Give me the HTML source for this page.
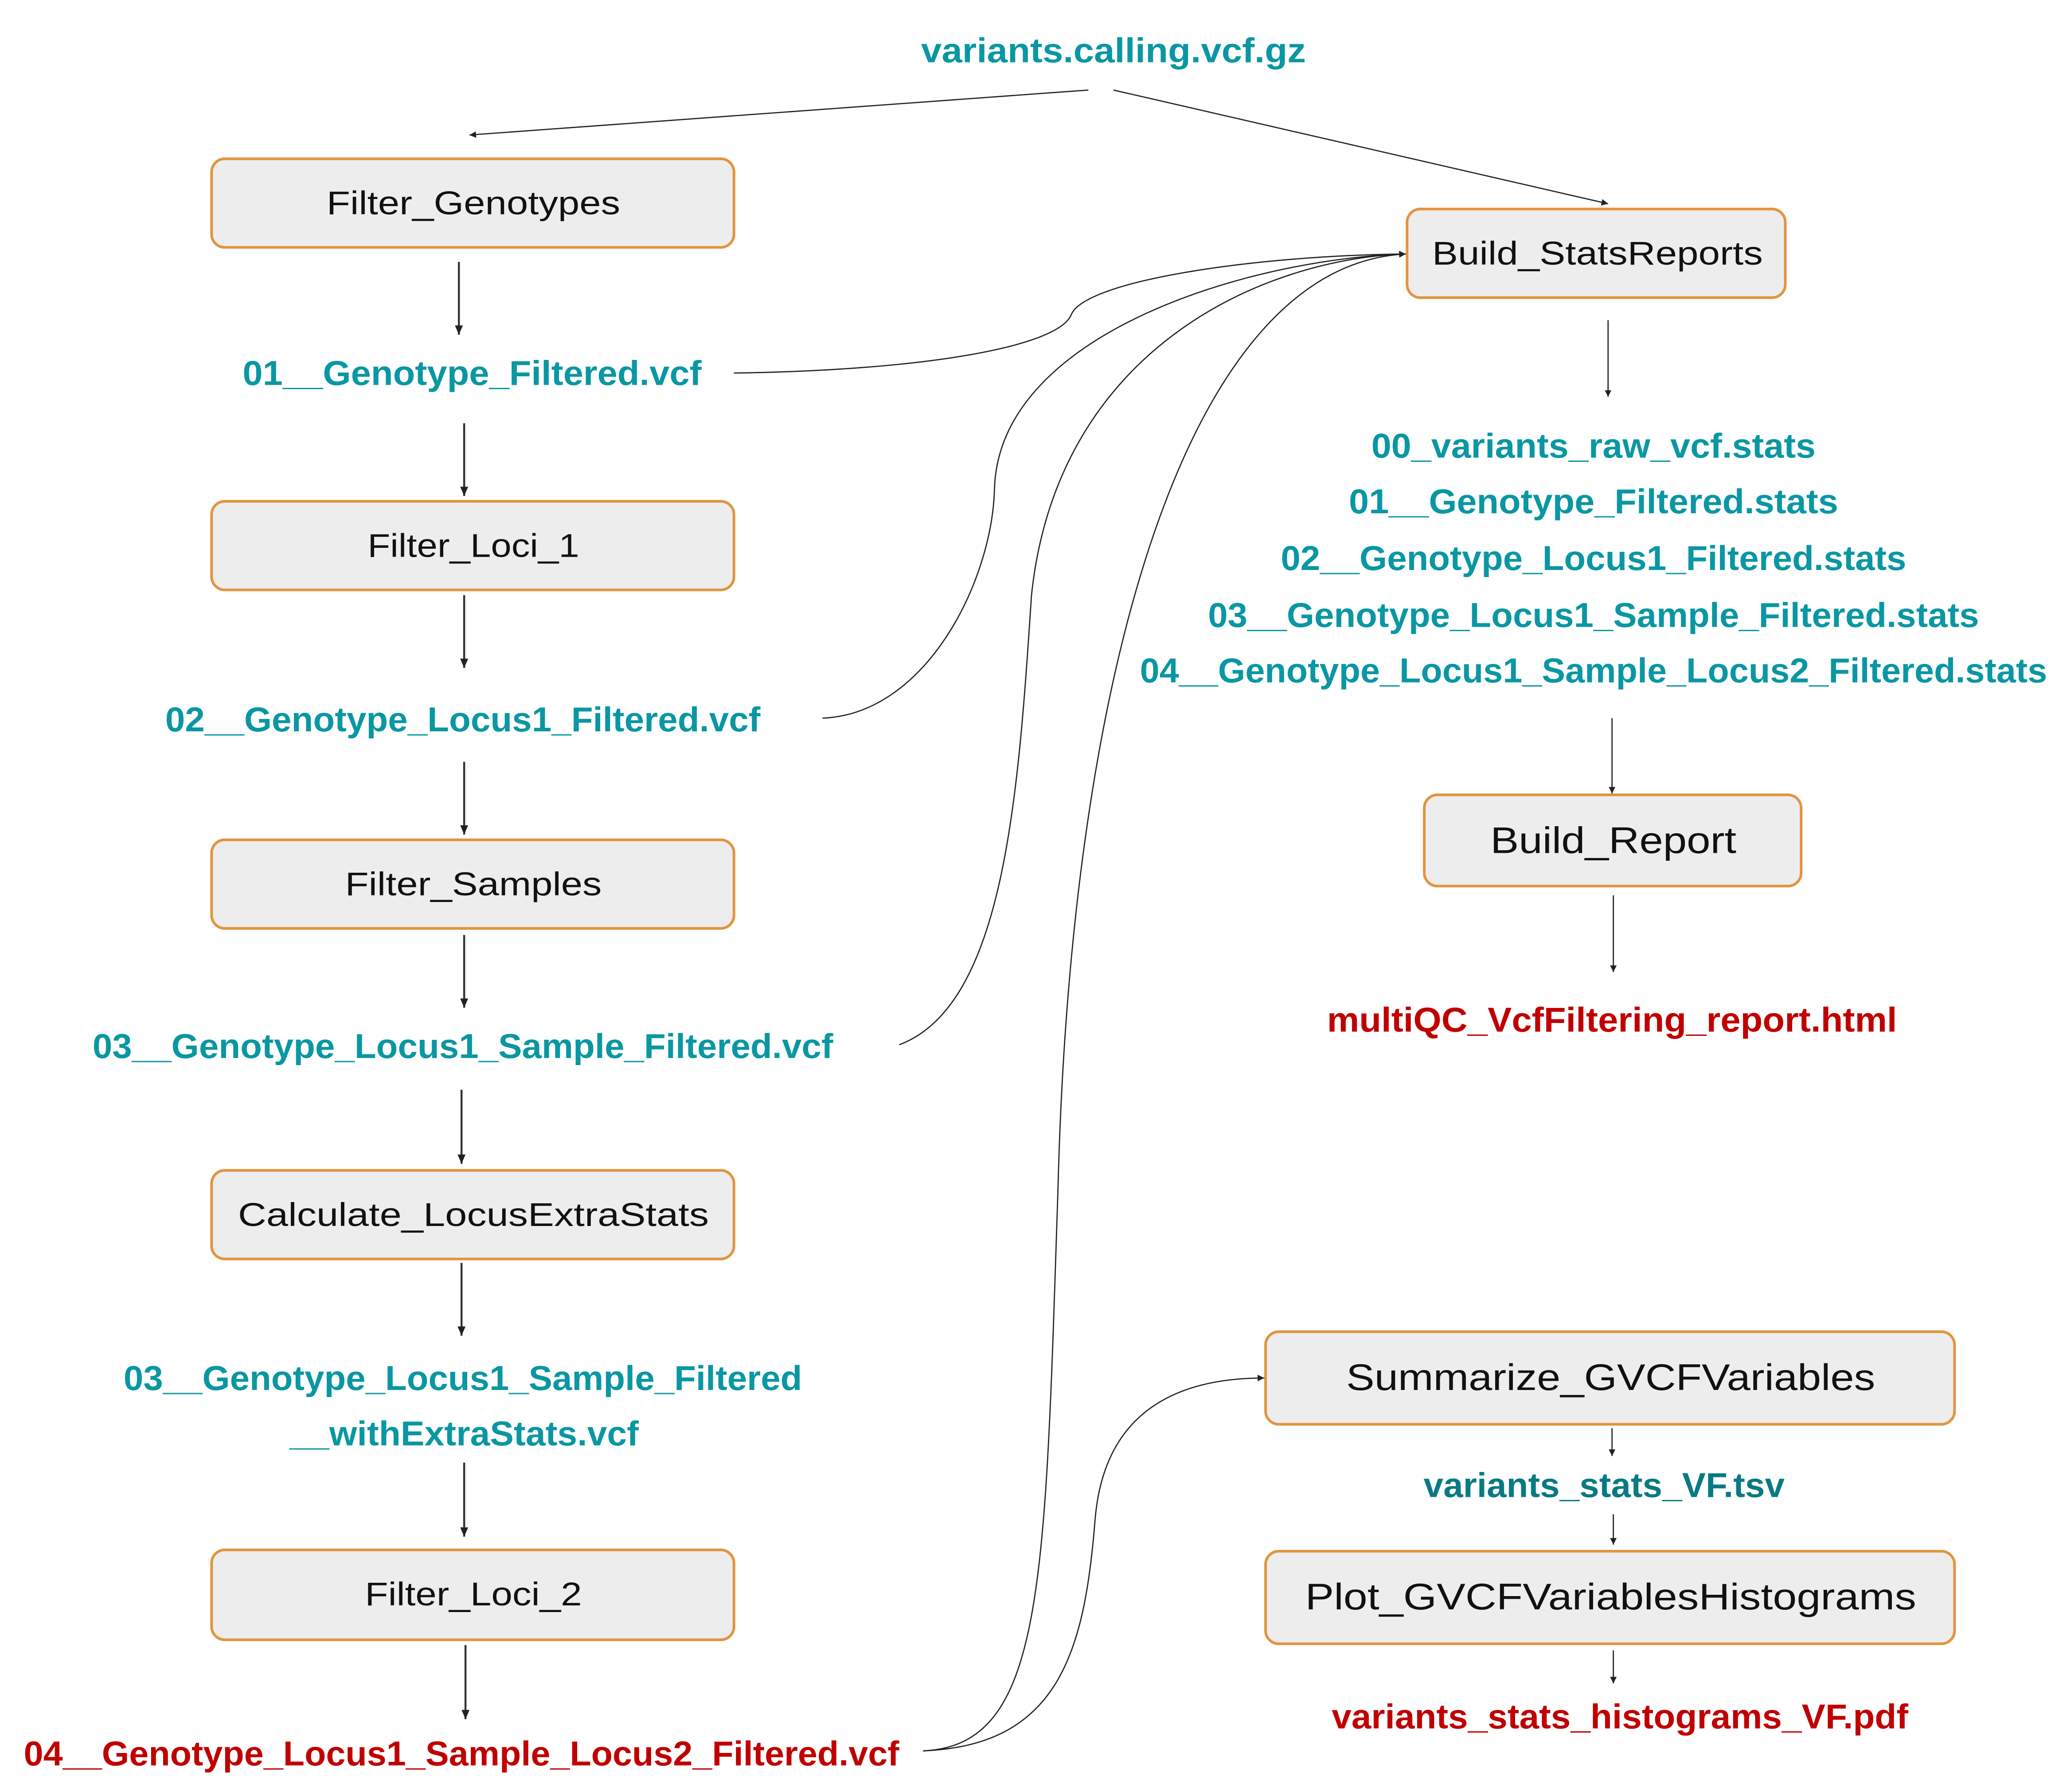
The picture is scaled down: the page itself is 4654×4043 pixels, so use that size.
<!DOCTYPE html>
<html><head><meta charset="utf-8"><style>html,body{margin:0;padding:0;background:#fff}svg{display:block}</style></head>
<body>
<svg width="4654" height="4043" viewBox="0 0 1560 1355" xmlns="http://www.w3.org/2000/svg">
<defs>
<marker id="a" markerWidth="8" markerHeight="8" refX="7" refY="4" orient="auto" markerUnits="userSpaceOnUse"><path d="M0,1 L7,4 L0,7 Z" fill="#222"/></marker>
<marker id="s" markerWidth="6" markerHeight="6" refX="5" refY="3" orient="auto" markerUnits="userSpaceOnUse"><path d="M0,0.5 L5,3 L0,5.5 Z" fill="#222"/></marker>
</defs>
<rect width="1560" height="1355" fill="#fff"/>
<g fill="#ededed" stroke="#e2943e" stroke-width="2">
<rect x="160" y="120" width="395" height="67" rx="10"/>
<rect x="160" y="379" width="395" height="67" rx="10"/>
<rect x="160" y="635" width="395" height="67" rx="10"/>
<rect x="160" y="885" width="395" height="67" rx="10"/>
<rect x="160" y="1172" width="395" height="68" rx="10"/>
<rect x="1064" y="158" width="286" height="67" rx="10"/>
<rect x="1077" y="601" width="285" height="69" rx="10"/>
<rect x="957" y="1007" width="521" height="70" rx="10"/>
<rect x="957" y="1173" width="521" height="70" rx="10"/>
</g>
<g font-family="Liberation Sans, sans-serif" font-size="25" fill="#111" text-anchor="middle" lengthAdjust="spacingAndGlyphs">
<text x="358" y="162" textLength="222" lengthAdjust="spacingAndGlyphs">Filter_Genotypes</text>
<text x="358" y="421" textLength="160" lengthAdjust="spacingAndGlyphs">Filter_Loci_1</text>
<text x="358" y="677" textLength="194" lengthAdjust="spacingAndGlyphs">Filter_Samples</text>
<text x="358" y="927" textLength="356" lengthAdjust="spacingAndGlyphs">Calculate_LocusExtraStats</text>
<text x="358" y="1214" textLength="164" lengthAdjust="spacingAndGlyphs">Filter_Loci_2</text>
<text x="1208" y="200" textLength="250" lengthAdjust="spacingAndGlyphs">Build_StatsReports</text>
<text x="1220" y="645" font-size="28" textLength="186" lengthAdjust="spacingAndGlyphs">Build_Report</text>
<text x="1218" y="1051" font-size="28" textLength="400" lengthAdjust="spacingAndGlyphs">Summarize_GVCFVariables</text>
<text x="1218" y="1217" font-size="28" textLength="462" lengthAdjust="spacingAndGlyphs">Plot_GVCFVariablesHistograms</text>
</g>
<g font-family="Liberation Sans, sans-serif" font-weight="bold" font-size="26" fill="#0a97a3" text-anchor="middle">
<text x="842" y="47" textLength="291" lengthAdjust="spacingAndGlyphs">variants.calling.vcf.gz</text>
<text x="357" y="291" textLength="347" lengthAdjust="spacingAndGlyphs">01__Genotype_Filtered.vcf</text>
<text x="350" y="553" textLength="450" lengthAdjust="spacingAndGlyphs">02__Genotype_Locus1_Filtered.vcf</text>
<text x="350" y="800" textLength="560" lengthAdjust="spacingAndGlyphs">03__Genotype_Locus1_Sample_Filtered.vcf</text>
<text x="350" y="1051" textLength="513" lengthAdjust="spacingAndGlyphs">03__Genotype_Locus1_Sample_Filtered</text>
<text x="351" y="1093" textLength="264" lengthAdjust="spacingAndGlyphs">__withExtraStats.vcf</text>
<text x="1205" y="346" textLength="336" lengthAdjust="spacingAndGlyphs">00_variants_raw_vcf.stats</text>
<text x="1205" y="388" textLength="370" lengthAdjust="spacingAndGlyphs">01__Genotype_Filtered.stats</text>
<text x="1205" y="431" textLength="473" lengthAdjust="spacingAndGlyphs">02__Genotype_Locus1_Filtered.stats</text>
<text x="1205" y="474" textLength="583" lengthAdjust="spacingAndGlyphs">03__Genotype_Locus1_Sample_Filtered.stats</text>
<text x="1205" y="516" textLength="686" lengthAdjust="spacingAndGlyphs">04__Genotype_Locus1_Sample_Locus2_Filtered.stats</text>
<text x="1213" y="1132" fill="#087a83" textLength="273" lengthAdjust="spacingAndGlyphs">variants_stats_VF.tsv</text>
<text x="349" y="1335" fill="#c00000" textLength="662" lengthAdjust="spacingAndGlyphs">04__Genotype_Locus1_Sample_Locus2_Filtered.vcf</text>
<text x="1219" y="780" fill="#c00000" textLength="431" lengthAdjust="spacingAndGlyphs">multiQC_VcfFiltering_report.html</text>
<text x="1225" y="1307" fill="#c00000" textLength="436" lengthAdjust="spacingAndGlyphs">variants_stats_histograms_VF.pdf</text>
</g>
<g stroke="#333" stroke-width="1.5" fill="none" marker-end="url(#a)">
<line x1="347" y1="198" x2="347" y2="253"/>
<line x1="351" y1="320" x2="351" y2="375"/>
<line x1="351" y1="450" x2="351" y2="505"/>
<line x1="351" y1="576" x2="351" y2="631"/>
<line x1="351" y1="707" x2="351" y2="762"/>
<line x1="349" y1="824" x2="349" y2="880"/>
<line x1="349" y1="955" x2="349" y2="1010"/>
<line x1="351" y1="1106" x2="351" y2="1162"/>
<line x1="352" y1="1244" x2="352" y2="1300"/>
</g>
<g stroke="#222" stroke-width="0.9" fill="none" marker-end="url(#s)">
<line x1="823" y1="68" x2="355" y2="102"/>
<line x1="842" y1="68" x2="1216" y2="154"/>
<line x1="1216" y1="242" x2="1216" y2="300"/>
<line x1="1219" y1="543" x2="1219" y2="600"/>
<line x1="1220" y1="677" x2="1220" y2="735"/>
<line x1="1219" y1="1080" x2="1219" y2="1101"/>
<line x1="1220" y1="1145" x2="1220" y2="1168"/>
<line x1="1220" y1="1248" x2="1220" y2="1273"/>
<path d="M555,282 C700,280 800,262 810,238 C820,212 950,193 1063,192"/>
<path d="M622,543 C700,540 750,440 752,370 C755,250 950,195 1063,192"/>
<path d="M680,790 C760,760 770,600 780,450 C800,260 960,195 1063,192"/>
<path d="M698,1324 C790,1320 790,1200 800,900 C810,500 900,200 1063,192"/>
<path d="M698,1324 C800,1320 820,1250 828,1150 C835,1060 900,1042 956,1042"/>
</g>
</svg>
</body></html>
